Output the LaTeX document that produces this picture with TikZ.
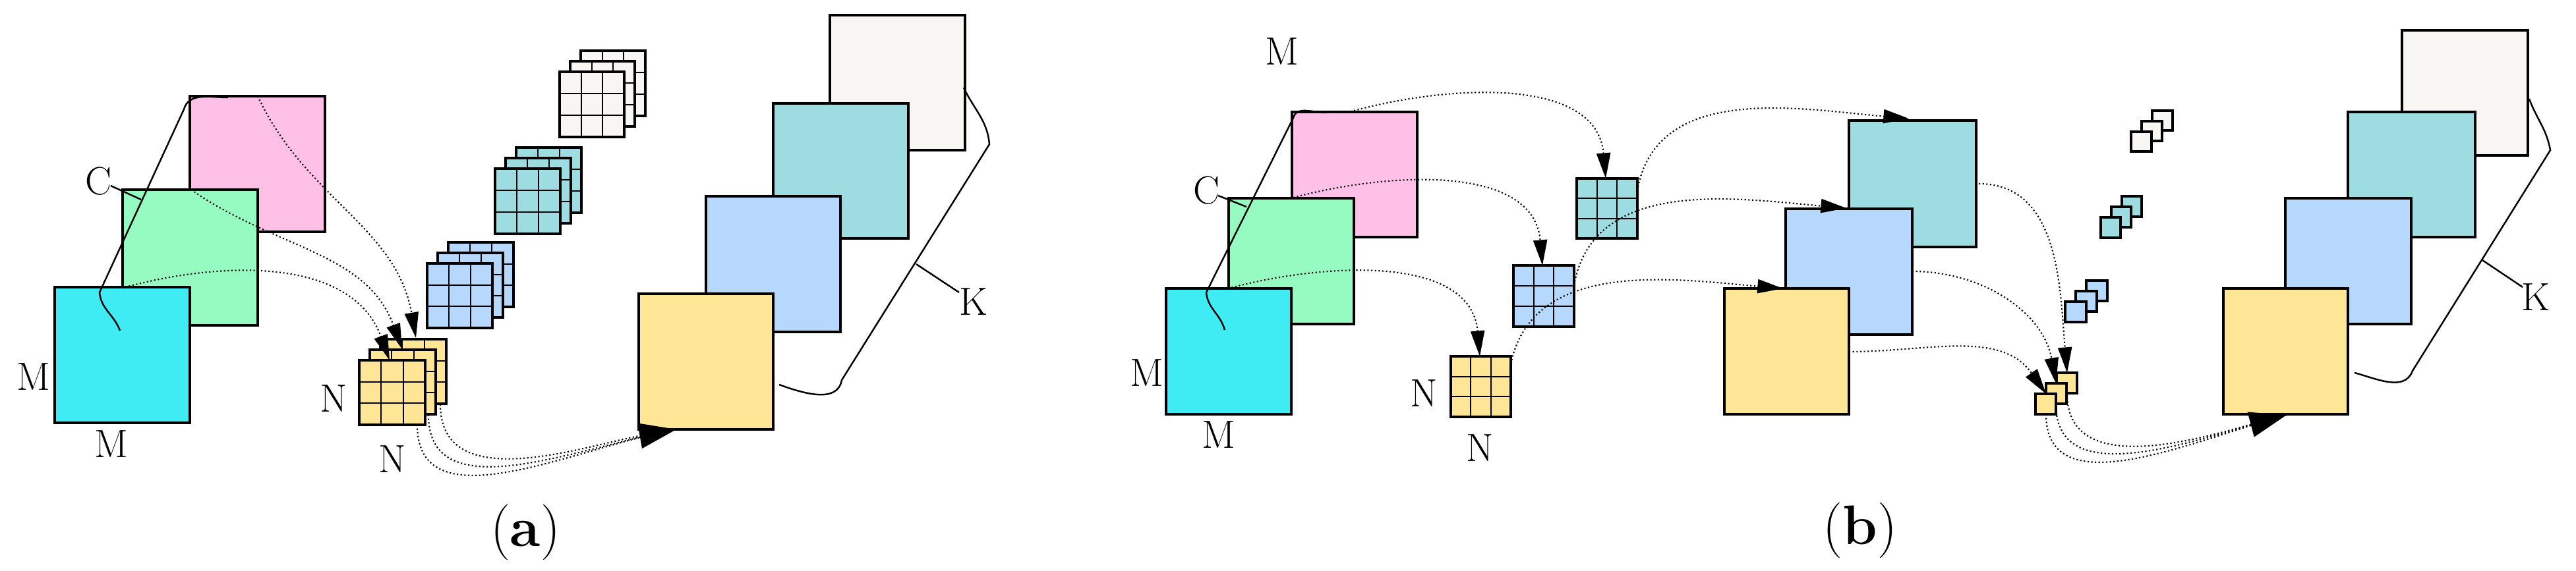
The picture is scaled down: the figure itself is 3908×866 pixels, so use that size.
\documentclass[tikz,border=0pt]{standalone}
\usetikzlibrary{arrows.meta}
\definecolor{ccy}{HTML}{40ECF4}
\definecolor{cgr}{HTML}{96FBC0}
\definecolor{cpk}{HTML}{FFC0E8}
\definecolor{cye}{HTML}{FFE596}
\definecolor{cbl}{HTML}{B6D8FC}
\definecolor{ctl}{HTML}{9DDCE0}
\definecolor{cwh}{HTML}{F8F6F2}
\begin{document}
\begin{tikzpicture}[x=0.01cm,y=-0.01cm,
  box/.style={draw=black,line width=0.9pt},
  lbl/.style={font=\fontsize{17}{20}\selectfont},
  captxt/.style={font=\fontsize{24}{28}\selectfont},
  dar/.style={densely dotted,line width=0.6pt,-{Triangle[length=11pt,width=6pt]}},
  bar/.style={densely dotted,line width=0.6pt,-{Triangle[length=16pt,width=11pt]}},
  brk/.style={line width=0.7pt}]
\useasboundingbox (0,0) rectangle (3908,866);
\newcommand{\grd}[5]{% x y w h color
  \draw[box,fill=#5] (#1,#2) rectangle ++(#3,#4);
  \draw[line width=0.5pt] (#1+#3/3,#2) -- ++(0,#4) (#1+2*#3/3,#2) -- ++(0,#4)
     (#1,#2+#4/3) -- ++(#3,0) (#1,#2+2*#4/3) -- ++(#3,0);}
% ===== (a) =====
\draw[box,fill=cpk] (288,146) rectangle (493,352);
\draw[box,fill=cgr] (186,288) rectangle (391,494);
\draw[box,fill=ccy] (83,436) rectangle (288,642);
\draw[brk] (182,502) to[out=110,in=-85] (151,444) -- (279,166) to[out=75,in=180] (346,148);
\node[lbl] (Ca) at (149,275) {C};
\draw[brk] (168,282) -- (214,303);
\node[lbl] (Ma1) at (51,572) {M};
\node[lbl] (Ma2) at (169,674) {M};
% grid stacks
\foreach \i in {2,1,0}{\grd{849+16*\i}{109-16*\i}{98}{99}{cwh}}
\foreach \i in {2,1,0}{\grd{751+16*\i}{256-16*\i}{99}{99}{ctl}}
\foreach \i in {2,1,0}{\grd{648+16*\i}{400-16*\i}{99}{98}{cbl}}
\foreach \i in {2,1,0}{\grd{545+16*\i}{547-16*\i}{100}{98}{cye}}
\node[lbl] (Na1) at (506,605) {N};
\node[lbl] (Na2) at (595,697) {N};
% big
\draw[box,fill=cwh] (1259,23) rectangle (1464,228);
\draw[box,fill=ctl] (1173,157) rectangle (1378,362);
\draw[box,fill=cbl] (1071,298) rectangle (1275,504);
\draw[box,fill=cye] (969,446) rectangle (1173,652);
\draw[brk] (1182,584) to[out=-20,in=-100] (1277,577) -- (1501,219) to[out=95,in=-65] (1462,133);
\node[lbl] (Ka) at (1477,458) {K};
\draw[brk] (1390,401) -- (1455,444);
% arrows
\coordinate (a1) at (190,436); \coordinate (t1) at (591,547);
\coordinate (a2) at (290,288); \coordinate (t2) at (610,530);
\coordinate (a3) at (391,146); \coordinate (t3) at (631,513);
\draw[dar] (a1) to[out=15,in=110] (t1);
\draw[dar] (a2) to[out=-35,in=110] (t2);
\draw[dar] (a3) to[out=-65,in=100] (t3);
\coordinate (b1) at (633,645); \coordinate (b2) at (650,630); \coordinate (b3) at (668,614);
\coordinate (ea) at (1026,652);
\draw[densely dotted,line width=0.6pt] (b1) to[out=-90,in=190] (ea);
\draw[densely dotted,line width=0.6pt] (b2) to[out=-90,in=190] (ea);
\draw[bar] (b3) to[out=-90,in=190] (ea);
\node[captxt] (capa) at (797,808) {(\textbf{a})};
% ===== (b) =====
\node[lbl] (Mb0) at (1945,78) {M};
\draw[box,fill=cpk] (1960,170) rectangle (2150,360);
\draw[box,fill=cgr] (1864,301) rectangle (2054,492);
\draw[box,fill=ccy] (1769,438) rectangle (1959,629);
\draw[brk] (1858,501) to[out=105,in=-85] (1830,444) -- (1962,179) to[out=75,in=180] (2011,171);
\node[lbl] (Cb) at (1830,289) {C};
\draw[brk] (1848,297) -- (1891,314);
\node[lbl] (Mb1) at (1740,566) {M};
\node[lbl] (Mb2) at (1849,660) {M};
\grd{2392}{271}{92}{91}{ctl}
\grd{2296}{403}{92}{93}{cbl}
\grd{2201}{541}{91}{92}{cye}
\node[lbl] (Nb1) at (2160,597) {N};
\node[lbl] (Nb2) at (2245,680) {N};
\draw[box,fill=ctl] (2805,183) rectangle (2998,375);
\draw[box,fill=cbl] (2709,317) rectangle (2901,508);
\draw[box,fill=cye] (2616,438) rectangle (2805,629);
\foreach \i in {2,1,0}{\draw[box,fill=cwh] (3233+16*\i,200-16*\i) rectangle ++(31,30);}
\foreach \i in {2,1,0}{\draw[box,fill=ctl] (3187+16*\i,330-16*\i) rectangle ++(30,31);}
\foreach \i in {2,1,0}{\draw[box,fill=cbl] (3133+16*\i,458-16*\i) rectangle ++(32,31);}
\foreach \i in {2,1,0}{\draw[box,fill=cye] (3088+16*\i,598-16*\i) rectangle ++(31,31);}
\draw[box,fill=cwh] (3644,46) rectangle (3835,236);
\draw[box,fill=ctl] (3562,170) rectangle (3755,360);
\draw[box,fill=cbl] (3467,301) rectangle (3658,492);
\draw[box,fill=cye] (3373,438) rectangle (3562,629);
\draw[brk] (3572,566) to[out=-15,in=-110] (3660,563) -- (3869,228) to[out=100,in=-70] (3837,150);
\node[lbl] (Kb) at (3847,451) {K};
\draw[brk] (3766,395) -- (3827,436);
% arrows (b)
\coordinate (p1) at (2054,168); \coordinate (q1) at (2436,271);
\coordinate (p2) at (1962,300); \coordinate (q2) at (2340,403);
\coordinate (p3) at (1863,438); \coordinate (q3) at (2245,541);
\draw[dar] (p1) to[out=15,in=95] (q1);
\draw[dar] (p2) to[out=15,in=95] (q2);
\draw[dar] (p3) to[out=15,in=95] (q3);
\coordinate (r1) at (2484,289); \coordinate (s1) at (2896,180);
\coordinate (r2) at (2388,433); \coordinate (s2) at (2801,316);
\coordinate (r3) at (2291,558); \coordinate (s3) at (2705,438);
\draw[dar] (r1) to[out=80,in=175] (s1);
\draw[dar] (r2) to[out=80,in=175] (s2);
\draw[dar] (r3) to[out=80,in=175] (s3);
\coordinate (u1) at (3002,279); \coordinate (v1) at (3136,566);
\coordinate (u2) at (2901,412); \coordinate (v2) at (3119,582);
\coordinate (u3) at (2805,534); \coordinate (v3) at (3104,598);
\draw[dar] (u1) to[out=0,in=95] (v1);
\draw[dar] (u2) to[out=0,in=100] (v2);
\draw[dar] (u3) to[out=0,in=125] (v3);
\coordinate (w1) at (3104,629); \coordinate (w2) at (3119,614); \coordinate (w3) at (3136,598);
\coordinate (eb) at (3469,630);
\draw[densely dotted,line width=0.6pt] (w1) to[out=-90,in=195] (eb);
\draw[densely dotted,line width=0.6pt] (w2) to[out=-90,in=195] (eb);
\draw[bar] (w3) to[out=-90,in=195] (eb);
\node[captxt] (capb) at (2822,805) {(\textbf{b})};
\end{tikzpicture}
\end{document}
